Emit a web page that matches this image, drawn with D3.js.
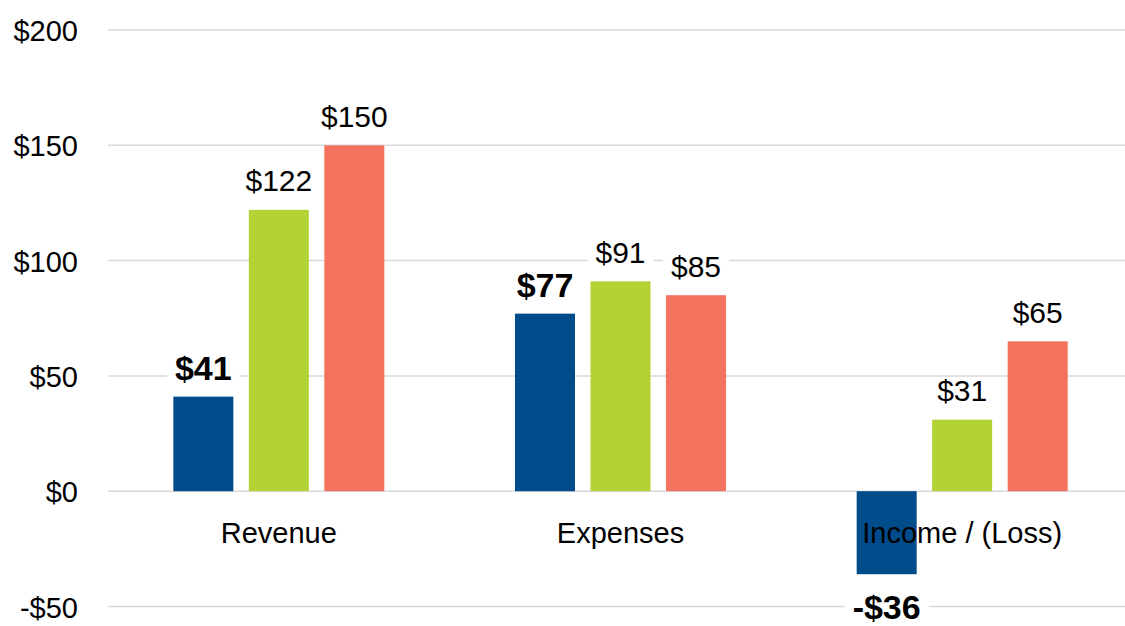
<!DOCTYPE html>
<html>
<head>
<meta charset="utf-8">
<script src="https://cdn.jsdelivr.net/npm/d3@7"></script>
<style>
  html, body { margin: 0; padding: 0; background: #fff; }
  svg { display: block; font-family: "Liberation Sans", Arial, sans-serif; }
</style>
</head>
<body>
<svg id="chart" width="1125" height="626"></svg>
<script>
const categories = ["Revenue", "Expenses", "Income / (Loss)"];
const seriesNames = ["A", "B", "C"];
const seriesA = [41, 77, -36];
const seriesB = [122, 91, 31];
const seriesC = [150, 85, 65];
const yTicks = [-50, 0, 50, 100, 150, 200];
const colors = ["#004b8a", "#b2d235", "#f4735e"];

const svg = d3.select("#chart");
const W = 1125, H = 626;
const x0 = d3.scaleBand().domain(categories).range([108, 1133]).paddingInner(0).paddingOuter(0);
const y = d3.scaleLinear().domain([-50, 200]).range([606.5, 30]);

const data = categories.map((c, i) => ({
  cat: c,
  vals: [seriesA[i], seriesB[i], seriesC[i]]
}));

// gridlines
svg.append("g").selectAll("line").data(yTicks).join("line")
  .attr("x1", 108).attr("x2", W)
  .attr("y1", d => y(d)).attr("y2", d => y(d))
  .attr("stroke", "#d9d9d9").attr("stroke-width", 1.5);

// y labels
svg.append("g").selectAll("text").data(yTicks).join("text")
  .attr("x", 78).attr("y", d => y(d) + 1)
  .attr("text-anchor", "end").attr("dominant-baseline", "central")
  .attr("font-size", 29).attr("fill", "#000")
  .text(d => (d < 0 ? "-$" : "$") + Math.abs(d));

const barW = 60, step = 75.5;
const bx = (cat, j) => x0(cat) + x0.bandwidth() / 2 + (j - 1) * step - barW / 2;

// bars
const groups = svg.append("g").selectAll("g").data(data).join("g");
groups.selectAll("rect").data(d => d.vals.map((v, j) => ({ cat: d.cat, v, j }))).join("rect")
  .attr("x", d => bx(d.cat, d.j))
  .attr("width", barW)
  .attr("y", d => y(Math.max(0, d.v)))
  .attr("height", d => Math.abs(y(d.v) - y(0)))
  .attr("fill", d => colors[d.j]);

// category labels (on top of the bars)
svg.append("g").selectAll("text").data(categories).join("text")
  .attr("x", d => x0(d) + x0.bandwidth() / 2)
  .attr("y", 533)
  .attr("text-anchor", "middle").attr("dominant-baseline", "central")
  .attr("font-size", 29).attr("fill", "#000")
  .text(d => d);

// value labels with white backgrounds
const labels = [];
data.forEach(d => d.vals.forEach((v, j) => labels.push({ cat: d.cat, v, j })));
const lg = svg.append("g");
labels.forEach(d => {
  const cx = bx(d.cat, d.j) + barW / 2;
  const cy = d.v >= 0 ? y(d.v) - 29 : y(d.v) + 33;
  const bold = d.j === 0;
  const g = lg.append("g");
  const t = g.append("text")
    .attr("x", cx).attr("y", cy)
    .attr("text-anchor", "middle").attr("dominant-baseline", "central")
    .attr("font-size", bold ? 34 : 30)
    .attr("font-weight", bold ? "bold" : "normal")
    .attr("fill", "#000")
    .text((d.v < 0 ? "-$" : "$") + Math.abs(d.v));
  const bb = t.node().getBBox();
  g.insert("rect", "text")
    .attr("x", bb.x - 8).attr("y", bb.y + 3)
    .attr("width", bb.width + 16).attr("height", bb.height - 6)
    .attr("fill", "#fff");
});
</script>
</body>
</html>
